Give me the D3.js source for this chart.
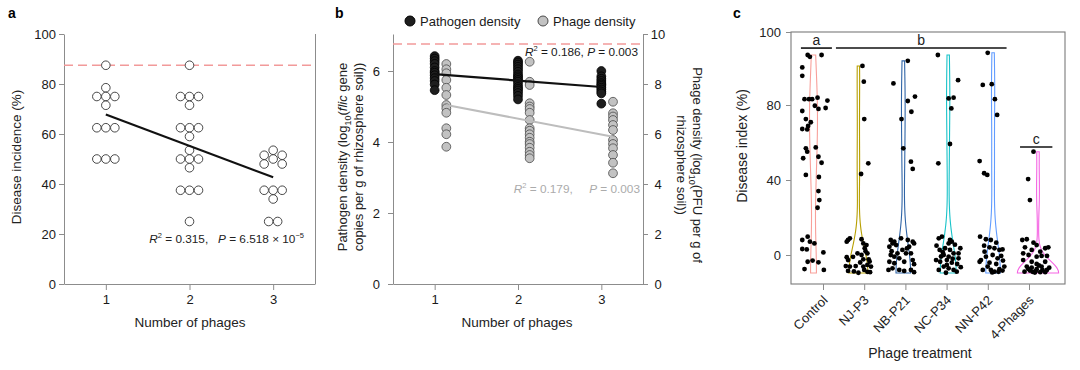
<!DOCTYPE html>
<html lang="en">
<head>
<meta charset="UTF-8">
<title>Phage number and disease</title>
<script src="https://d3js.org/d3.v7.min.js"></script>
<style>
body { margin: 0; background: #fff; }
svg text { font-family: "Liberation Sans", Arial, sans-serif; white-space: pre; }
</style>
</head>
<body>
<svg width="1080" height="370"></svg>
<script>
// ---------- data: panel a ----------
const phageCounts = [1, 2, 3];
const incidenceTicks = [0, 20, 40, 60, 80, 100];
const incidence1 = [87.5, 78.5, 75, 75, 75, 71.5, 62.5, 62.5, 62.5, 50, 50, 50];
const incidence2 = [87.5, 75, 75, 75, 71.5, 62.5, 62.5, 62.5, 59, 53.5, 50, 50, 50, 46.5, 37.5, 37.5, 37.5, 25];
const incidence3 = [53.5, 51.5, 51.5, 50, 48, 48, 37.5, 37.5, 37.5, 34, 25, 25];
const controlIncidence = 87.5;
const fitIncidence = [[1, 67.8], [3, 42.7]];

// ---------- data: panel b ----------
const pathogenTicks = [0, 2, 4, 6];
const phageTicks = [0, 2, 4, 6, 8, 10];
const pathogen1 = [6.42, 6.35, 6.28, 6.2, 6.1, 6.0, 5.95, 5.88, 5.8, 5.72, 5.62, 5.46];
const pathogen2 = [6.29, 6.24, 6.18, 6.12, 6.05, 5.98, 5.9, 5.85, 5.8, 5.75, 5.7, 5.62, 5.55, 5.5, 5.45, 5.38, 5.3, 5.2];
const pathogen3 = [6.0, 5.85, 5.78, 5.72, 5.66, 5.62, 5.58, 5.53, 5.48, 5.42, 5.37, 5.08];
const phage1 = [8.8, 8.59, 8.43, 8.16, 7.85, 7.56, 7.16, 7.03, 6.85, 6.23, 5.99, 5.49];
const phage2 = [8.89, 8.09, 7.96, 7.23, 7.1, 7.0, 6.85, 6.56, 6.23, 6.13, 5.99, 5.85, 5.69, 5.6, 5.45, 5.29, 5.16, 5.03];
const phage3 = [7.29, 6.83, 6.7, 6.56, 6.36, 6.16, 5.76, 5.6, 5.43, 5.16, 4.85, 4.43];
const controlPathogen = 6.76;
const fitPathogen = [[1, 5.91], [3, 5.55]];
const fitPhage = [[1, 7.16], [3, 5.89]];

// ---------- data: panel c  ([jitter, disease index]) ----------
const treatments = ["Control", "NJ-P3", "NB-P21", "NC-P34", "NN-P42", "4-Phages"];
const indexTicks = [0, 40, 80, 100];
const controlPts = [[-0.13,93.7],[-0.08,93.2],[0.18,93.7],[-0.25,90.3],[-0.25,88.0],[-0.2,81.6],[-0.1,81.6],[-0.03,81.6],[0.09,82.0],[0.31,81.2],[-0.25,76.8],[0.03,79.6],[0.11,77.9],[0.27,78.4],[-0.17,72.5],[-0.06,70.8],[-0.25,67.2],[-0.14,67.0],[-0.12,68.8],[-0.17,56.9],[-0.14,55.1],[0.05,57.4],[-0.23,51.6],[0.11,52.4],[0.18,49.2],[-0.17,42.7],[0.12,41.6],[0.11,34.1],[0.13,29.3],[0.09,25.2],[-0.25,8.0],[-0.13,9.8],[-0.08,7.1],[0.02,6.2],[-0.25,3.2],[-0.15,3.0],[0.22,1.4],[-0.13,-3.6],[-0.02,-3.0],[0.11,-3.9],[-0.2,-7.5],[0.23,-8.0]];
const nj3Pts = [[0.09,90.7],[0.12,86.4],[0.13,72.5],[0.22,48.9],[0.06,43.2],[-0.23,8.0],[-0.19,8.9],[-0.26,7.1],[0.07,8.4],[0.11,6.2],[0.18,5.3],[0.14,3.6],[-0.02,0.9],[0.07,0],[0.2,0.9],[-0.26,-1.2],[-0.23,-2.7],[0.11,-2.3],[0.23,-2.3],[-0.28,-5.9],[-0.19,-6.2],[-0.06,-5.9],[0.11,-6.2],[0.2,-5.3],[0.28,-6.2],[-0.23,-8.5],[0.13,-8.0],[0.26,-9.2],[0.0,-9.5],[-0.1,-8.8],[0.2,-9.0],[0.04,-4.0],[0.25,-3.5],[-0.12,-1.0],[0.16,2.0]];
const nb21Pts = [[0.1,92.1],[-0.22,85.9],[0.1,81.1],[0.26,82.3],[0.18,76.4],[-0.04,72.5],[0.0,56.9],[0.17,49.8],[0.21,45.9],[-0.28,8.0],[-0.2,7.1],[-0.24,6.2],[-0.31,4.4],[-0.16,5.3],[-0.05,8.9],[0.1,8.0],[0.21,7.1],[0.13,4.4],[0.24,6.2],[-0.02,2.7],[-0.13,0.9],[-0.28,0],[-0.2,-0.9],[-0.09,-1.8],[0.06,0.9],[0.17,0.9],[-0.31,-3.6],[-0.2,-4.4],[0.02,-3.6],[0.21,-2.7],[0.24,-4.9],[-0.09,-8.0],[0.02,-8.5],[0.17,-8.0],[0.24,-9.2],[-0.24,-7.1],[-0.33,-8.0],[-0.26,2.0],[0.08,3.5]];
const nc34Pts = [[-0.23,93.7],[0.22,86.8],[0.01,81.8],[0.12,82.0],[0.07,78.2],[0.04,59.2],[-0.22,48.9],[-0.21,8.9],[-0.14,9.8],[0.04,8.0],[0.01,6.2],[0.08,7.1],[-0.07,3.6],[-0.19,2.7],[0.04,2.7],[0.27,3.6],[0.23,0.9],[-0.1,0],[0.01,-0.9],[0.12,0.9],[-0.27,-2.7],[-0.18,-3.6],[-0.03,-2.7],[0.08,-4.1],[0.23,-1.8],[-0.1,-6.2],[0.01,-7.1],[0.12,-8.0],[-0.21,-8.0],[0.19,-8.9],[-0.03,-5.3],[-0.26,5.0],[0.15,5.5],[-0.05,-9.5],[0.28,-6.5],[-0.12,1.5],[0.1,-2.0],[0.2,-4.8],[-0.16,-0.8]];
const nn42Pts = [[-0.12,94.3],[-0.23,85.5],[-0.03,85.7],[0.04,81.6],[0.09,74.7],[-0.3,50.1],[-0.2,43.6],[-0.13,42.7],[-0.29,9.8],[-0.16,8.4],[-0.05,8.0],[0.07,6.6],[-0.08,4.1],[0.03,3.6],[0.14,2.7],[0.21,3.0],[-0.19,1.8],[-0.27,-2.7],[-0.16,-0.9],[-0.01,0],[0.1,-1.8],[0.18,-0.5],[-0.3,-3.6],[-0.08,-4.1],[0.07,-4.8],[-0.23,-8.0],[-0.05,-8.0],[0.14,-7.6],[0.21,-8.3],[0.03,-8.9],[-0.12,-6.2],[0.25,-6.2],[-0.02,-9.3],[0.12,-9.0],[-0.2,5.0],[0.22,-3.0]];
const fourPhagePts = [[-0.1,55.1],[-0.22,40.5],[-0.18,29.3],[-0.35,8.0],[-0.25,8.4],[-0.1,6.6],[-0.03,5.3],[0.16,3.6],[0.23,4.1],[-0.29,4.1],[-0.14,2.7],[0.05,1.8],[-0.33,0.9],[-0.21,0],[-0.03,-0.9],[0.08,-0.5],[0.2,-0.5],[-0.33,-2.7],[-0.14,-3.6],[-0.03,-4.8],[0.16,-3.6],[-0.25,-6.2],[-0.14,-6.8],[-0.03,-7.6],[0.08,-6.2],[0.2,-8.0],[-0.3,-8.9],[-0.18,-8.3],[-0.07,-9.4],[0.05,-9.2],[0.16,-9.2],[-0.05,-8.6],[0.1,-7.9],[-0.22,-7.4],[0.02,-5.6],[0.25,-6.8],[-0.12,-9.0]];
const sigLetters = ["a", "b", "c"];
const sigSpans = [[-0.28, 0.41], [0.5, 4.3], [4.6, 5.32]];   // in treatment-index units
const sigLevels = [95.6, 95.6, 57.6];

// ---------- drawing ----------
const svg = d3.select("svg");
const axisGray = "#8c8c8c";
const violinColors = ["#f8a09a", "#b79f00", "#2f64a6", "#19c3c9", "#619cff", "#f564e3"];
const intFmt = d3.format("d");

function styleAxis(g) {
  g.select(".domain").attr("stroke", axisGray);
  g.selectAll(".tick line").attr("stroke", axisGray);
  g.selectAll(".tick text").attr("fill", "#1a1a1a").style("font-size", "13px");
}
function panelLetter(x, s) {
  svg.append("text").attr("x", x).attr("y", 18).attr("font-size", 14).attr("font-weight", "bold").text(s);
}

// simple beeswarm: nearest free horizontal slot, then centre each row of ties
function swarm(values, y, step, minDist) {
  const placed = [];
  values.forEach(v => {
    const py = y(v);
    for (let k = 0; k < 40; k++) {
      const dx = k === 0 ? 0 : (k % 2 ? 1 : -1) * Math.ceil(k / 2) * step;
      if (placed.every(p => Math.hypot(p.dx - dx, p.y - py) >= minDist)) { placed.push({v: v, y: py, dx: dx}); break; }
    }
  });
  d3.group(placed, p => p.v).forEach(row => {
    const m = d3.mean(row, p => p.dx);
    row.forEach(p => p.dx -= m);
  });
  return placed;
}

// ===== panel a =====
panelLetter(8, "a");
const xA = d3.scaleLinear().domain([0.5, 3.5]).range([64, 315]);
const yA = d3.scaleLinear().domain([0, 100]).range([284, 34]);
svg.append("g").attr("transform", "translate(0,284)")
  .call(d3.axisBottom(xA).tickValues(phageCounts).tickFormat(intFmt).tickSize(6).tickPadding(5).tickSizeOuter(0)).call(styleAxis);
svg.append("g").attr("transform", "translate(64,0)")
  .call(d3.axisLeft(yA).tickValues(incidenceTicks).tickFormat(intFmt).tickSize(5).tickPadding(3).tickSizeOuter(0)).call(styleAxis);
svg.append("line").attr("x1", 315.5).attr("x2", 315.5).attr("y1", 34).attr("y2", 284).attr("stroke", axisGray);

svg.append("line").attr("x1", xA(0.5)).attr("x2", xA(3.5))
  .attr("y1", yA(controlIncidence)).attr("y2", yA(controlIncidence))
  .attr("stroke", "#f29a9a").attr("stroke-width", 1.3).attr("stroke-dasharray", "9,5");

[incidence1, incidence2, incidence3].forEach((vals, i) => {
  svg.append("g").selectAll("circle")
    .data(swarm(vals, yA, 4.5, 8.5))
    .join("circle")
    .attr("cx", d => xA(phageCounts[i]) + d.dx)
    .attr("cy", d => d.y)
    .attr("r", 4.3)
    .attr("fill", "#fff").attr("stroke", "#333").attr("stroke-width", 0.9);
});
svg.append("path").attr("d", d3.line().x(d => xA(d[0])).y(d => yA(d[1]))(fitIncidence))
  .attr("stroke", "#111").attr("stroke-width", 2.2).attr("fill", "none");

function statText(x, y, color, r2, gap, pText) {
  const t = svg.append("text").attr("x", x).attr("y", y).attr("text-anchor", "end").attr("font-size", 11.8).attr("fill", color);
  t.append("tspan").attr("font-style", "italic").text("R");
  t.append("tspan").attr("dy", -5).attr("font-size", 7.5).text("2");
  t.append("tspan").attr("dy", 5).text(" = " + r2 + "," + gap);
  t.append("tspan").attr("font-style", "italic").text("P");
  t.append("tspan").text(" = " + pText);
  return t;
}
const statA = statText(304, 243, "#222", "0.315", "   ", "6.518 × 10");
statA.append("tspan").attr("dy", -5).attr("font-size", 7.5).text("−5");

svg.append("text").attr("x", 190).attr("y", 327).attr("text-anchor", "middle").attr("font-size", 13.5).attr("fill", "#222").text("Number of phages");
svg.append("text").attr("transform", "translate(21,157) rotate(-90)").attr("text-anchor", "middle").attr("font-size", 13.5).attr("fill", "#222").text("Disease incidence (%)");

// ===== panel b =====
panelLetter(335, "b");
const xB = d3.scaleLinear().domain([0.5, 3.5]).range([393, 643]);
const yB = d3.scaleLinear().domain([0, 250 / 35.5]).range([284, 34]);
const yB2 = d3.scaleLinear().domain([0, 10]).range([284, 34]);
const phageDodge = 0.14;
svg.append("g").attr("transform", "translate(0,284)")
  .call(d3.axisBottom(xB).tickValues(phageCounts).tickFormat(intFmt).tickSize(6).tickPadding(5).tickSizeOuter(0)).call(styleAxis);
svg.append("g").attr("transform", "translate(393,0)")
  .call(d3.axisLeft(yB).tickValues(pathogenTicks).tickFormat(intFmt).tickSize(5).tickPadding(8).tickSizeOuter(0)).call(styleAxis);
const rightAx = svg.append("g").attr("transform", "translate(643,0)")
  .call(d3.axisRight(yB2).tickValues(phageTicks).tickFormat(intFmt).tickSize(5).tickPadding(10).tickSizeOuter(0)).call(styleAxis);
rightAx.selectAll(".tick text").attr("text-anchor", "middle").attr("x", 15);

svg.append("line").attr("x1", xB(0.5)).attr("x2", xB(3.5))
  .attr("y1", yB(controlPathogen)).attr("y2", yB(controlPathogen))
  .attr("stroke", "#f29a9a").attr("stroke-width", 1.3).attr("stroke-dasharray", "9,5");

[pathogen1, pathogen2, pathogen3].forEach((vals, i) => {
  svg.append("g").selectAll("circle").data(vals).join("circle")
    .attr("cx", xB(phageCounts[i])).attr("cy", d => yB(d)).attr("r", 4.4)
    .attr("fill", "#1e1e1e").attr("stroke", "#000").attr("stroke-width", 0.8);
});
[phage1, phage2, phage3].forEach((vals, i) => {
  svg.append("g").selectAll("circle").data(vals).join("circle")
    .attr("cx", xB(phageCounts[i] + phageDodge)).attr("cy", d => yB2(d)).attr("r", 4.4)
    .attr("fill", "#c2c2c2").attr("stroke", "#4a4a4a").attr("stroke-width", 0.8);
});
svg.append("path").attr("d", d3.line().x(d => xB(d[0])).y(d => yB(d[1]))(fitPathogen))
  .attr("stroke", "#111").attr("stroke-width", 2.2).attr("fill", "none");
svg.append("path").attr("d", d3.line().x(d => xB(d[0] + phageDodge)).y(d => yB2(d[1]))(fitPhage))
  .attr("stroke", "#bdbdbd").attr("stroke-width", 2.2).attr("fill", "none");

statText(638, 56, "#1a1a1a", "0.186", " ", "0.003");
statText(640, 193, "#ababab", "0.179", "     ", "0.003");

// legend
svg.append("circle").attr("cx", 410).attr("cy", 21).attr("r", 5).attr("fill", "#1e1e1e").attr("stroke", "#000");
svg.append("text").attr("x", 420).attr("y", 26).attr("font-size", 13).attr("fill", "#1a1a1a").text("Pathogen density");
svg.append("circle").attr("cx", 543).attr("cy", 21).attr("r", 5).attr("fill", "#c2c2c2").attr("stroke", "#4a4a4a");
svg.append("text").attr("x", 553).attr("y", 26).attr("font-size", 13).attr("fill", "#1a1a1a").text("Phage density");

svg.append("text").attr("x", 517).attr("y", 327).attr("text-anchor", "middle").attr("font-size", 13.5).attr("fill", "#222").text("Number of phages");
const lb1 = svg.append("text").attr("transform", "translate(347,157) rotate(-90)").attr("text-anchor", "middle").attr("font-size", 13).attr("fill", "#222");
lb1.append("tspan").text("Pathogen density (log");
lb1.append("tspan").attr("dy", 4).attr("font-size", 9).text("10");
lb1.append("tspan").attr("dy", -4).text("(");
lb1.append("tspan").attr("font-style", "italic").text("flic");
lb1.append("tspan").text(" gene");
svg.append("text").attr("transform", "translate(363,157) rotate(-90)").attr("text-anchor", "middle").attr("font-size", 13).attr("fill", "#222").text("copies per g of rhizosphere soil))");
const rb1 = svg.append("text").attr("transform", "translate(693,165) rotate(90)").attr("text-anchor", "middle").attr("font-size", 13).attr("fill", "#222");
rb1.append("tspan").text("Phage density (log");
rb1.append("tspan").attr("dy", 4).attr("font-size", 9).text("10");
rb1.append("tspan").attr("dy", -4).text("(PFU per g of");
svg.append("text").attr("transform", "translate(677,165) rotate(90)").attr("text-anchor", "middle").attr("font-size", 13).attr("fill", "#222").text("rhizosphere soil))");

// ===== panel c =====
panelLetter(733, "c");
const xTick = d3.scalePoint().domain(treatments).range([823, 1029]);
const xMark = d3.scaleLinear().domain([0, treatments.length - 1]).range([813.5, 1038]);
const markStep = xMark(1) - xMark(0);
const yC = d3.scaleLinear().domain([-15.5, 0, 40, 80, 100]).range([284, 255, 180, 105, 32]);

svg.append("rect").attr("x", 791).attr("y", 32).attr("width", 274).attr("height", 252)
  .attr("fill", "none").attr("stroke", "#7a7a7a").attr("stroke-width", 1.1);
const cy = svg.append("g").attr("transform", "translate(791,0)")
  .call(d3.axisLeft(yC).tickValues(indexTicks).tickSize(5).tickPadding(5).tickSizeOuter(0)).call(styleAxis);
cy.select(".domain").remove();
cy.selectAll(".tick text").attr("fill", "#222");
const cx = svg.append("g").attr("transform", "translate(0,284)")
  .call(d3.axisBottom(xTick).tickSize(6).tickSizeOuter(0)).call(styleAxis);
cx.select(".domain").remove();
cx.selectAll(".tick text")
  .attr("text-anchor", "end").attr("dy", 0).attr("y", 0)
  .attr("transform", "translate(5,17) rotate(-45)").attr("fill", "#222");

const groups = [controlPts, nj3Pts, nb21Pts, nc34Pts, nn42Pts, fourPhagePts];

// violins: symptom-free plants (jittered round zero in the dot layer) sit at the
// floor of the violin; gaussian density with R's nrd0 bandwidth, equal area, trimmed
const healthyBand = 15;
const violinFloor = -9.6;
function nrd0(v) {
  const s = v.slice().sort(d3.ascending);
  const hi = d3.deviation(s);
  let lo = Math.min(hi, (d3.quantile(s, 0.75) - d3.quantile(s, 0.25)) / 1.34);
  if (!lo) lo = hi;
  return 0.9 * lo * Math.pow(s.length, -0.2);
}
const dens = groups.map(pts => {
  const ys = pts.map(p => yC(p[1] < healthyBand ? violinFloor : p[1]));
  const bw = nrd0(ys);
  const lo = d3.min(ys), hi = d3.max(ys);
  return d3.range(0, 121).map(k => {
    const y = lo + (hi - lo) * k / 120;
    const d = d3.mean(ys, v => Math.exp(-0.5 * ((y - v) / bw) ** 2)) / (bw * Math.sqrt(2 * Math.PI));
    return [y, d];
  });
});
const maxDens = d3.max(dens, g => d3.max(g, d => d[1]));
const halfW = d3.scaleLinear().domain([0, maxDens]).range([0, 20]);
dens.forEach((g, i) => {
  const c = xMark(i);
  const pts = g.map(d => [c - halfW(d[1]) - 0.6, d[0]]).concat(g.slice().reverse().map(d => [c + halfW(d[1]) + 0.6, d[0]]));
  svg.append("path").attr("d", d3.line()(pts) + "Z")
    .attr("fill", "none").attr("stroke", violinColors[i]).attr("stroke-width", 1.1);
});

groups.forEach((pts, i) => {
  svg.append("g").selectAll("circle").data(pts).join("circle")
    .attr("cx", d => xMark(i) + d[0] * markStep)
    .attr("cy", d => yC(d[1]))
    .attr("r", 2.4).attr("fill", "#000");
});

sigLetters.forEach((s, i) => {
  const y = yC(sigLevels[i]);
  svg.append("line").attr("x1", xMark(sigSpans[i][0])).attr("x2", xMark(sigSpans[i][1]))
    .attr("y1", y).attr("y2", y).attr("stroke", "#111").attr("stroke-width", 1.6);
  svg.append("text").attr("x", (xMark(sigSpans[i][0]) + xMark(sigSpans[i][1])) / 2).attr("y", y - 3)
    .attr("text-anchor", "middle").attr("font-size", 14).attr("fill", "#222").text(s);
});

svg.append("text").attr("x", 920).attr("y", 358).attr("text-anchor", "middle").attr("font-size", 14).attr("fill", "#222").text("Phage treatment");
svg.append("text").attr("transform", "translate(747,146) rotate(-90)").attr("text-anchor", "middle").attr("font-size", 14).attr("fill", "#222").text("Disease index (%)");
</script>
</body>
</html>
